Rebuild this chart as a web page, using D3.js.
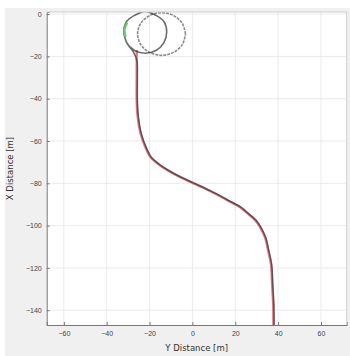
<!DOCTYPE html>
<html>
<head>
<meta charset="utf-8">
<script src="https://cdn.jsdelivr.net/npm/d3@7"></script>
<style>
  body { margin: 0; background: #fff; }
  svg { display: block; font-family: "DejaVu Sans", sans-serif; }
</style>
</head>
<body>
<div id="chart"></div>
<script>
// Axis ticks
const xTicks = [-60, -40, -20, 0, 20, 40, 60];
const yTicks = [0, -20, -40, -60, -80, -100, -120, -140];

// Reference path [Y, X] (red)
const refPath = [
  [-26, -17], [-26, -30], [-26, -40.8], [-25.6, -47.9], [-24.2, -56.4], [-21.9, -63],
  [-19.5, -67.7], [-15.8, -71], [-11.6, -73.8], [-5.6, -77.1], [0.5, -80],
  [8.4, -83.7], [16.3, -88], [22.3, -91.3], [25.6, -94.1], [29.3, -97.4],
  [31.6, -100.7], [34, -105.9], [35.3, -111.6], [36.7, -118.6], [37.2, -128],
  [37.7, -137.5], [37.8, -147]
];

// Actual path [Y, X] (dark): full loop, then along the reference
const actPath = [
  [-31.8, -7.5], [-30.7, -13.5], [-27, -17.2], [-22, -18.5], [-17, -17.2],
  [-13.3, -13.5], [-12, -8.5], [-13.3, -3.5], [-17, -0.6], [-22, 1.3],
  [-27, -0.6], [-30.7, -3.5], [-32, -8.5], [-30.4, -14], [-27.5, -18],
  [-25.9, -22], [-25.7, -30], [-25.7, -40.8], [-25.3, -47.9], [-23.9, -56.4],
  [-21.6, -63], [-19.2, -67.7], [-15.5, -71], [-11.3, -73.8], [-5.3, -77.1],
  [0.8, -80], [8.7, -83.7], [16.6, -88], [22.6, -91.3], [25.9, -94.1],
  [29.6, -97.4], [31.9, -100.7], [34.3, -105.9], [35.6, -111.6], [37, -118.6],
  [37.5, -128], [38, -137.5], [38.1, -147]
];

// Second loop [Y, X] (gray)
const loopPath = [
  [-3.2, -9.4], [-4.7, -4.4], [-8.8, -0.7], [-14.4, 0.7], [-20, -0.7], [-24.1, -4.4],
  [-25.6, -9.4], [-24.1, -14.4], [-20, -18.1], [-14.4, -19.5], [-8.8, -18.1],
  [-4.7, -14.4], [-3.2, -9.4]
];

// Start segment [Y, X] (green)
const startPath = [[-30.4, -4], [-31.7, -7.5], [-31.2, -11]];

const W = 350, H = 356;
const plot = { left: 46.7, top: 12, right: 346.7, bottom: 325 };

const svg = d3.select('#chart').append('svg')
  .attr('width', W).attr('height', H);

// Figure background
svg.append('rect')
  .attr('x', 5).attr('y', 8).attr('width', W - 5).attr('height', H - 8)
  .attr('fill', '#f0f0f0');

svg.append('rect')
  .attr('x', plot.left).attr('y', plot.top)
  .attr('width', plot.right - plot.left).attr('height', plot.bottom - plot.top)
  .attr('fill', '#fff');

const x = d3.scaleLinear().domain([-68, 72]).range([plot.left, plot.right]);
const y = d3.scaleLinear().domain([1, -147]).range([plot.top, plot.bottom]);

// Grid
const grid = svg.append('g');
grid.selectAll('.gx').data(xTicks).enter().append('line')
  .attr('x1', d => x(d)).attr('x2', d => x(d))
  .attr('y1', plot.top).attr('y2', plot.bottom)
  .attr('stroke', '#e6e6e6').attr('stroke-width', 0.8);
grid.selectAll('.gy').data(yTicks).enter().append('line')
  .attr('x1', plot.left).attr('x2', plot.right)
  .attr('y1', d => y(d)).attr('y2', d => y(d))
  .attr('stroke', '#e6e6e6').attr('stroke-width', 0.8);

// Clip
svg.append('clipPath').attr('id', 'clip').append('rect')
  .attr('x', plot.left).attr('y', plot.top)
  .attr('width', plot.right - plot.left).attr('height', plot.bottom - plot.top);

const line = d3.line().x(d => x(d[0])).y(d => y(d[1])).curve(d3.curveCatmullRom);
const g = svg.append('g').attr('clip-path', 'url(#clip)');

g.append('path').datum(loopPath)
  .attr('fill', 'none').attr('stroke', '#8c8c8c')
  .attr('stroke-width', 1.6).attr('stroke-dasharray', '3,1')
  .attr('d', line);

g.append('path').datum(refPath)
  .attr('fill', 'none').attr('stroke', '#e27a86')
  .attr('stroke-width', 2.4).attr('d', line);

g.append('path').datum(actPath)
  .attr('fill', 'none').attr('stroke', '#3c3c3c')
  .attr('stroke-width', 1.6).attr('stroke-opacity', 0.75).attr('d', line);

g.append('path').datum(startPath)
  .attr('fill', 'none').attr('stroke', '#66cc66')
  .attr('stroke-width', 2.2).attr('d', line);

// Axes
const xAxis = svg.append('g')
  .attr('transform', `translate(0,${plot.bottom})`)
  .call(d3.axisBottom(x).tickValues(xTicks).tickSize(-3).tickPadding(6));
const yAxis = svg.append('g')
  .attr('transform', `translate(${plot.left},0)`)
  .call(d3.axisLeft(y).tickValues(yTicks).tickSize(-3).tickPadding(5));

[xAxis, yAxis].forEach(a => {
  a.selectAll('path, line').attr('stroke', '#777');
  a.selectAll('text').attr('fill', '#444').attr('font-size', '7px');
});

// Top / right box
svg.append('line')
  .attr('x1', plot.left).attr('x2', plot.right)
  .attr('y1', plot.top).attr('y2', plot.top)
  .attr('stroke', '#cfcfcf');
svg.append('line')
  .attr('x1', plot.right).attr('x2', plot.right)
  .attr('y1', plot.top).attr('y2', plot.bottom)
  .attr('stroke', '#cfcfcf');

// Axis titles
svg.append('text')
  .attr('x', (plot.left + plot.right) / 2).attr('y', 351)
  .attr('text-anchor', 'middle')
  .attr('fill', '#333').attr('font-size', '8.5px')
  .text('Y Distance [m]');

svg.append('text')
  .attr('transform', `translate(13,${(plot.top + plot.bottom) / 2}) rotate(-90)`)
  .attr('text-anchor', 'middle')
  .attr('fill', '#333').attr('font-size', '8.5px')
  .text('X Distance [m]');
</script>
</body>
</html>
